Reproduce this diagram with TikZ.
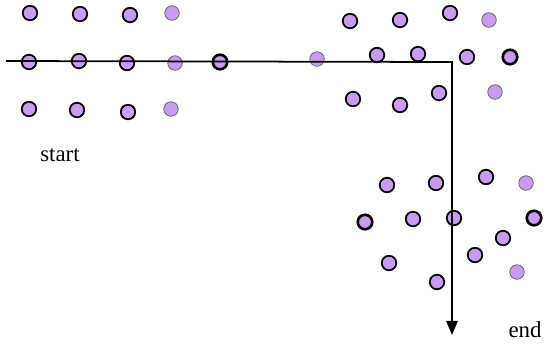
\documentclass[tikz,border=0pt]{standalone}
\usepackage{fontspec}
\setmainfont{Liberation Serif}
\usepackage{tikz}
\usetikzlibrary{arrows.meta}
\definecolor{colorDot}{RGB}{201,156,243}
\colorlet{colorRim}{gray!80!black}

\begin{document}
\begin{tikzpicture}[x=0.02cm, y=-0.02cm,
    dot/.style={circle, draw=black, line width=1pt, fill=colorDot, minimum size=0.29cm, inner sep=0pt},
    hdot/.style={dot, line width=1.5pt},
    ldot/.style={dot, draw=colorRim, line width=0.45pt},
    lbl/.style={font=\fontsize{13}{15}\selectfont},
    path/.style={-{Triangle[length=8pt,width=6.5pt]}, line width=1pt}
]
\useasboundingbox (0,0) rectangle (550,343);

% ------------------------------------------------------------
% Left group
% ------------------------------------------------------------
\node[dot]  (l11) at (30,13) {};
\node[dot]  (l12) at (80,14) {};
\node[dot]  (l13) at (130,15) {};
\node[ldot] (l14) at (172,13) {};

\node[dot]  (l21) at (29,62) {};
\node[dot]  (l22) at (79,61) {};
\node[dot]  (l23) at (127,63) {};
\node[ldot] (l24) at (175,63) {};
\node[hdot] (l25) at (220,62) {};

\node[dot]  (l31) at (29,109) {};
\node[dot]  (l32) at (77,110) {};
\node[dot]  (l33) at (128,112) {};
\node[ldot] (l34) at (171,109) {};

\node[lbl] (start) at (60,155) {start};

% ------------------------------------------------------------
% Upper right group
% ------------------------------------------------------------
\node[dot]  (u11) at (350,21) {};
\node[dot]  (u12) at (400,20) {};
\node[dot]  (u13) at (450,13) {};
\node[ldot] (u14) at (489,20) {};

\node[ldot] (u21) at (317,59) {};
\node[dot]  (u22) at (377,55) {};
\node[dot]  (u23) at (418,54) {};
\node[dot]  (u24) at (467,57) {};
\node[hdot] (u25) at (510,57) {};

\node[dot]  (u31) at (353,99) {};
\node[dot]  (u32) at (400,105) {};
\node[dot]  (u33) at (439,93) {};
\node[ldot] (u34) at (495,92) {};

% ------------------------------------------------------------
% Lower right group
% ------------------------------------------------------------
\node[dot]  (d11) at (387,185) {};
\node[dot]  (d12) at (436,183) {};
\node[dot]  (d13) at (486,177) {};
\node[ldot] (d14) at (526,183) {};

\node[hdot] (d21) at (365,222) {};
\node[dot]  (d22) at (413,219) {};
\node[dot]  (d23) at (454,218) {};
\node[hdot] (d24) at (534,218) {};

\node[dot]  (d31) at (503,238) {};
\node[dot]  (d32) at (475,255) {};
\node[dot]  (d33) at (389,263) {};
\node[ldot] (d34) at (517,272) {};
\node[dot]  (d35) at (437,282) {};

\node[lbl] (end) at (525,330) {end};

% path from start to end
\coordinate (p0) at (6,61);
\coordinate (p1) at (452,62);
\coordinate (p2) at (452,335);
\draw[path] (p0) -- (p1) -- (p2);
\end{tikzpicture}
\end{document}
